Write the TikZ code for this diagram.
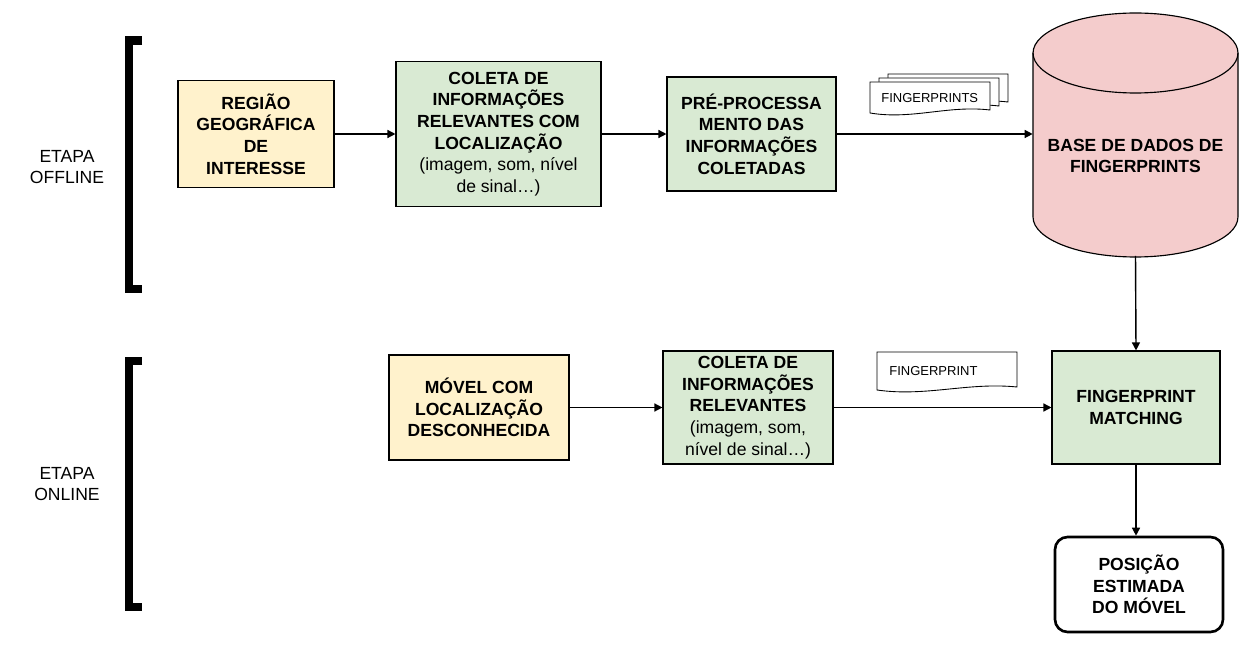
\documentclass[tikz,border=0pt]{standalone}
\usepackage{fontspec}
\setmainfont{Liberation Sans}
\usetikzlibrary{arrows.meta}

\definecolor{boxyellow}{HTML}{FFF2CC}
\definecolor{boxgreen}{HTML}{D9EAD3}
\definecolor{dbpink}{HTML}{F4CCCC}

\tikzset{
  stagebox/.style={draw=black, line width=0.65pt, align=center, inner sep=0pt,
    font=\fontsize{10}{12.35}\selectfont\bfseries},
  inputbox/.style={stagebox, fill=boxyellow},
  procbox/.style={stagebox, fill=boxgreen},
  flow/.style={draw=black, line width=0.8pt, -{Triangle[length=1.6mm,width=1.6mm]}},
  bracket/.style={draw=black, line width=4.6pt, line join=miter},
  etapa/.style={align=center, font=\fontsize{10}{12.35}\selectfont},
  docpage/.style={draw=black, line width=0.5pt, fill=white},
  doctext/.style={font=\fontsize{7.4}{9}\selectfont, inner sep=0pt, anchor=west},
}

\begin{document}
\begin{tikzpicture}[x=0.02cm, y=-0.02cm]
\useasboundingbox (0,0) rectangle (1254,648);

% stage brackets
\draw[bracket] (142,40.5) -- (129,40.5) -- (129,289) -- (142,289);
\draw[bracket] (142,361) -- (129,361) -- (129,607) -- (142,607);
\node[etapa] (offline) at (67,167) {ETAPA\\OFFLINE};
\node[etapa] (online) at (67,484) {ETAPA\\ONLINE};

% offline row
\node[inputbox, minimum width=3.12cm, minimum height=2.14cm] (regiao) at (256,134) {REGIÃO\\GEOGRÁFICA\\DE\\INTERESSE};
\node[procbox, minimum width=4.10cm, minimum height=2.90cm] (coleta) at (498.5,134) {COLETA DE\\INFORMAÇÕES\\RELEVANTES COM\\LOCALIZAÇÃO\\\mdseries (imagem, som, nível\\\mdseries de sinal…)};
\node[procbox, minimum width=3.38cm, minimum height=2.28cm] (preproc) at (751.5,134) {PRÉ-PROCESSA\\MENTO DAS\\INFORMAÇÕES\\COLETADAS};

% database cylinder
\draw[fill=dbpink, line width=0.65pt] (1033,53) -- (1033,217) arc (180:360:2.05cm and 0.8cm) -- (1238,53) arc (0:180:2.05cm and 0.8cm) -- cycle;
\draw[line width=0.65pt] (1033,53) arc (180:360:2.05cm and 0.8cm);
\node[minimum width=4.10cm, minimum height=4.86cm, inner sep=0pt] (base) at (1135.5,134) {};
\node[stagebox, draw=none] (basetext) at (1135.5,156) {BASE DE DADOS DE\\FINGERPRINTS};

% fingerprint pages
\draw[docpage] (888,74) -- (1008,74) -- (1008,102) .. controls (966,97) and (930,112) .. (888,105) -- cycle;
\draw[docpage] (879,78) -- (999,78) -- (999,106) .. controls (957,101) and (921,116) .. (879,109) -- cycle;
\draw[docpage] (870,82) -- (990,82) -- (990,110) .. controls (948,105) and (912,120) .. (870,113) -- cycle;
\node[doctext] (fps) at (881,98) {FINGERPRINTS};

% online row
\node[inputbox, minimum width=3.6cm, minimum height=2.1cm] (movel) at (479,407.5) {MÓVEL COM\\LOCALIZAÇÃO\\DESCONHECIDA};
\node[procbox, minimum width=3.4cm, minimum height=2.26cm] (coleta2) at (748,407.5) {COLETA DE\\INFORMAÇÕES\\RELEVANTES\\\mdseries (imagem, som,\\\mdseries nível de sinal…)};
\node[procbox, minimum width=3.36cm, minimum height=2.26cm] (match) at (1136,407.5) {FINGERPRINT\\MATCHING};
\node[stagebox, fill=white, line width=1.5pt, rounded corners=0.25cm, minimum width=3.36cm, minimum height=1.9cm] (pos) at (1139,584.5) {POSIÇÃO\\ESTIMADA\\DO MÓVEL};

\draw[docpage] (877,352) -- (1017,352) -- (1017,387) .. controls (968,382) and (926,397) .. (877,390) -- cycle;
\node[doctext] (fp) at (889,371) {FINGERPRINT};

% connectors
\draw[flow] (regiao.east) -- (coleta.west);
\draw[flow] (coleta.east) -- (preproc.west);
\draw[flow] (preproc.east) -- (base.west);
\draw[flow] (base.south) -- (match.north);
\draw[flow] (movel.east) -- (coleta2.west);
\draw[flow] (coleta2.east) -- (match.west);
\draw[flow] (match.south) -- (match.south |- pos.north);

\end{tikzpicture}
\end{document}
